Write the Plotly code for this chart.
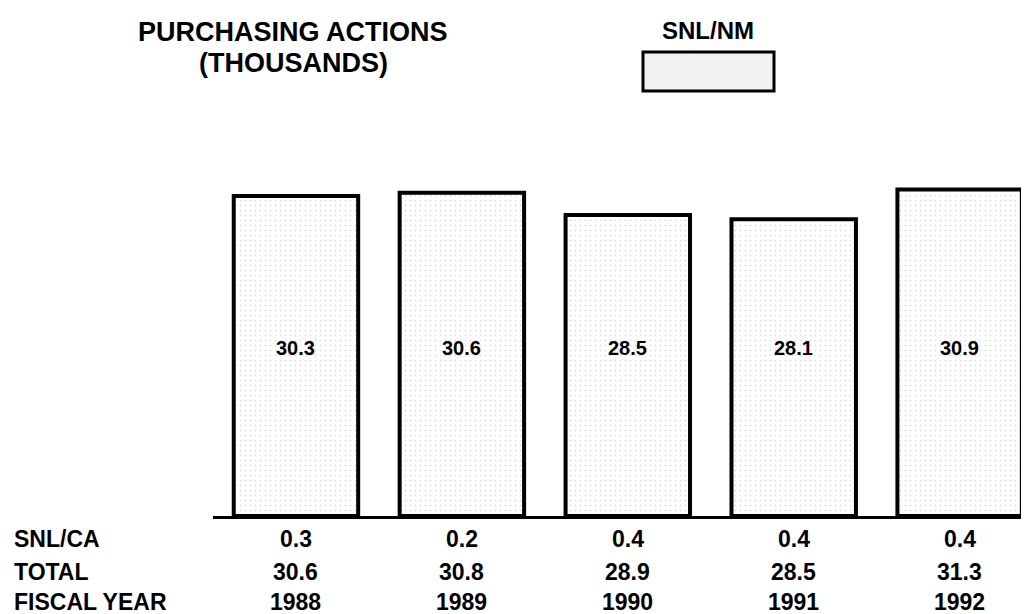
import plotly.graph_objects as go

# ---- data ----
years = ["1988", "1989", "1990", "1991", "1992"]
snl_nm = [30.3, 30.6, 28.5, 28.1, 30.9]
snl_ca = ["0.3", "0.2", "0.4", "0.4", "0.4"]
total = ["30.6", "30.8", "28.9", "28.5", "31.3"]
row_labels = ["SNL/CA", "TOTAL", "FISCAL YEAR"]

# ---- layout geometry ----
W, H = 1029, 614
ML, MR, MT, MB = 205, 11, 170, 106
PW, PH = W - ML - MR, H - MT - MB
FONT = "Liberation Sans, Arial, sans-serif"


def py(ypix):
    return (H - MB - ypix) / PH


def px(xpix):
    return (xpix - ML) / PW


fig = go.Figure()
fig.add_trace(go.Bar(
    x=list(range(len(years))),
    y=snl_nm,
    width=0.75,
    marker=dict(
        color="white",
        line=dict(color="black", width=4),
        pattern=dict(shape=".", fgcolor="#adadad", bgcolor="white",
                     size=5, solidity=0.09),
    ),
    showlegend=False,
    hoverinfo="skip",
))

annotations = []
# value labels inside the bars, all on one level
for i, v in enumerate(snl_nm):
    annotations.append(dict(
        x=i, y=py(340), xref="x", yref="paper", xanchor="center",
        yanchor="middle", showarrow=False, text=f"{v:.1f}",
        font=dict(family=FONT, size=20, color="black", weight="bold"),
    ))

rows_y = [531, 564, 594]
rows_vals = [snl_ca, total, years]
for lab, yp, vals in zip(row_labels, rows_y, rows_vals):
    annotations.append(dict(
        x=px(4), y=py(yp), xref="paper", yref="paper",
        xanchor="left", yanchor="middle", showarrow=False,
        text=lab, font=dict(family=FONT, size=23, color="black", weight="bold"),
    ))
    for i, v in enumerate(vals):
        annotations.append(dict(
            x=i, y=py(yp), xref="x", yref="paper",
            xanchor="center", yanchor="middle", showarrow=False,
            text=v, font=dict(family=FONT, size=23, color="black", weight="bold"),
        ))

# title
annotations.append(dict(
    x=px(285), y=py(24), xref="paper", yref="paper", xanchor="center",
    yanchor="middle", showarrow=False, text="PURCHASING ACTIONS",
    font=dict(family=FONT, size=27, color="black", weight="bold"),
))
annotations.append(dict(
    x=px(285), y=py(55), xref="paper", yref="paper", xanchor="center",
    yanchor="middle", showarrow=False, text="(THOUSANDS)",
    font=dict(family=FONT, size=27, color="black", weight="bold"),
))
# legend
annotations.append(dict(
    x=px(700), y=py(22), xref="paper", yref="paper", xanchor="center",
    yanchor="middle", showarrow=False, text="SNL/NM",
    font=dict(family=FONT, size=24, color="black", weight="bold"),
))

shapes = [dict(
    type="rect", xref="paper", yref="paper",
    x0=px(635), x1=px(766), y0=py(83), y1=py(44),
    line=dict(color="black", width=3), fillcolor="#f2f2f2",
)]

fig.update_layout(
    width=W, height=H,
    margin=dict(l=ML, r=MR, t=MT, b=MB),
    paper_bgcolor="white", plot_bgcolor="white",
    xaxis=dict(range=[-0.5, 4.4], showticklabels=False, showgrid=False,
               zeroline=False, showline=True, linecolor="black", linewidth=3,
               ticks=""),
    yaxis=dict(range=[0, 32], visible=False, showgrid=False, zeroline=False),
    annotations=annotations,
    shapes=shapes,
)

fig.write_html("out.html")
